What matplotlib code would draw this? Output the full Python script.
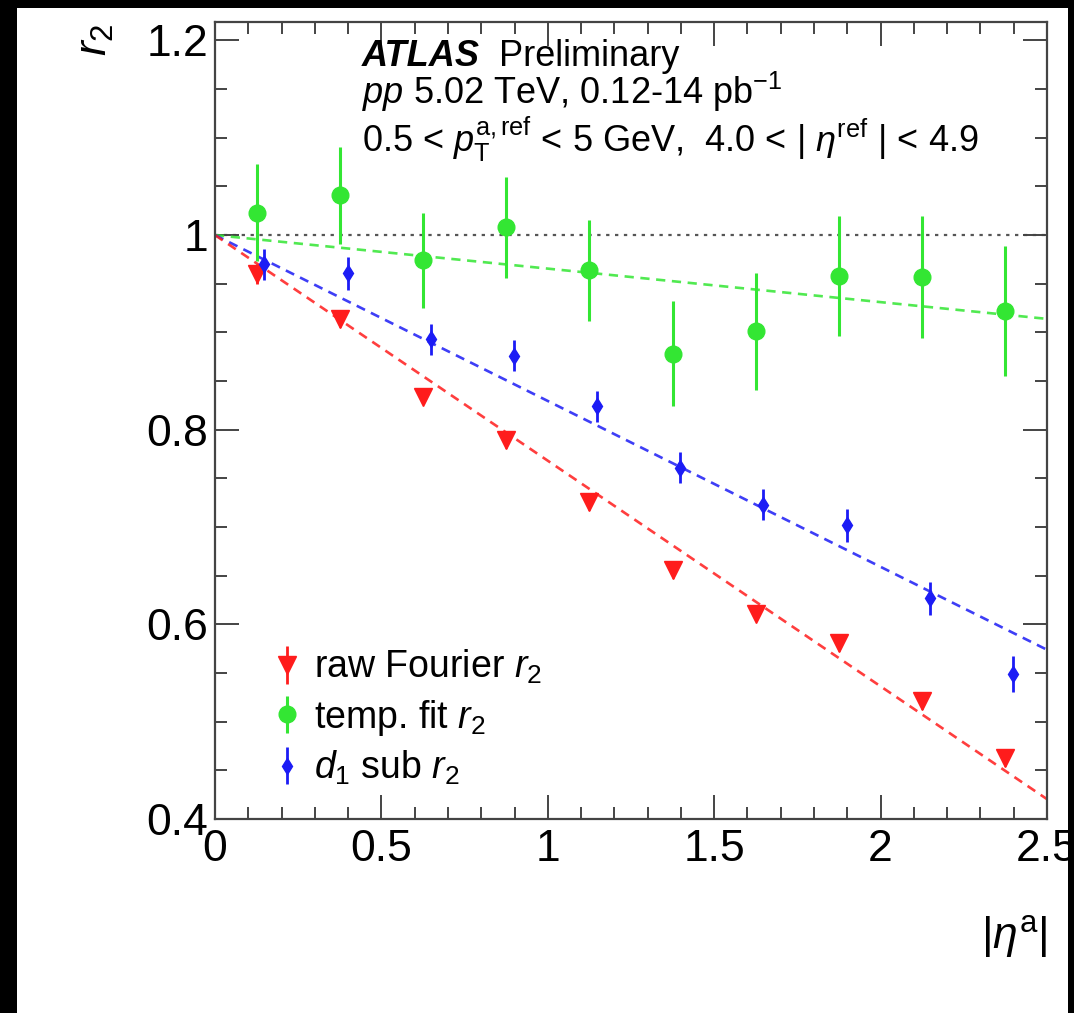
import numpy as np
import matplotlib
matplotlib.use("Agg")
import matplotlib.pyplot as plt
from matplotlib.ticker import MultipleLocator, FuncFormatter
from matplotlib.patches import Rectangle

plt.rcParams['font.family'] = ['Liberation Sans', 'DejaVu Sans']
plt.rcParams['mathtext.fontset'] = 'custom'
plt.rcParams['mathtext.rm'] = 'Liberation Sans'
plt.rcParams['mathtext.it'] = 'Liberation Sans:italic'
plt.rcParams['mathtext.bf'] = 'Liberation Sans:bold'

# |eta^a| bin centres (d1-sub points are shifted slightly to the right)
eta_a = [0.125, 0.375, 0.625, 0.875, 1.125, 1.375, 1.625, 1.875, 2.125, 2.375]
eta_a_d1 = [0.148, 0.399, 0.649, 0.899, 1.149, 1.397, 1.648, 1.898, 2.148, 2.399]

# raw Fourier r2
raw_r2 = [0.960, 0.914, 0.834, 0.789, 0.726, 0.656, 0.611, 0.581, 0.521, 0.463]
raw_err = [0.010, 0.008, 0.008, 0.008, 0.008, 0.008, 0.008, 0.008, 0.008, 0.009]

# template fit r2
temp_r2 = [1.023, 1.041, 0.974, 1.008, 0.964, 0.878, 0.901, 0.958, 0.957, 0.922]
temp_err = [0.050, 0.050, 0.049, 0.052, 0.052, 0.054, 0.060, 0.062, 0.063, 0.067]

# d1-subtracted r2
sub_r2 = [0.970, 0.961, 0.893, 0.876, 0.824, 0.761, 0.723, 0.702, 0.627, 0.549]
sub_err = [0.016, 0.017, 0.016, 0.016, 0.016, 0.016, 0.016, 0.017, 0.017, 0.018]

c_red = '#ff1c1c'
c_green = '#33e633'
c_blue = '#1c1cf5'

W, H = 1074, 1013
fig = plt.figure(figsize=(W / 100, H / 100), dpi=100)
fig.patch.set_facecolor('white')
ax = fig.add_axes([215 / W, 1 - 819 / H, (1047 - 215) / W, (819 - 22) / H])

ax.set_xlim(0, 2.5)
ax.set_ylim(0.4, 1.219)

# r2 = 1 line
ax.axhline(1.0, color='#555555', ls=(0, (1.5, 2.5)), lw=1.6, zorder=1)


def fit_through_one(x, y):
    # straight line constrained to r2 = 1 at |eta^a| = 0
    x = np.asarray(x)
    y = np.asarray(y)
    return np.sum(x * (1 - y)) / np.sum(x * x)


xf = np.array(ax.get_xlim())
for xs, ys, col in [(eta_a, temp_r2, c_green), (eta_a_d1, sub_r2, c_blue), (eta_a, raw_r2, c_red)]:
    k = fit_through_one(xs, ys)
    ax.plot(xf, 1 - k * xf, color=col, ls=(0, (3.5, 2.5)), lw=1.9, zorder=2, alpha=0.85)

h_raw = ax.errorbar(eta_a, raw_r2, yerr=raw_err, fmt='v', color=c_red, ms=12.5,
                    elinewidth=2, capsize=0, zorder=4, label='raw Fourier $r_{2}$')
h_temp = ax.errorbar(eta_a, temp_r2, yerr=temp_err, fmt='o', color=c_green, ms=12,
                     elinewidth=2.2, capsize=0, zorder=3, label='temp. fit $r_{2}$')
h_sub = ax.errorbar(eta_a_d1, sub_r2, yerr=sub_err, fmt='d', color=c_blue, ms=8.5,
                    elinewidth=2, capsize=0, zorder=5, label='$d_{1}$ sub $r_{2}$')

# ROOT-like frame and ticks
for s in ax.spines.values():
    s.set_color('#444444')
    s.set_linewidth(1.6)
ax.xaxis.set_major_locator(MultipleLocator(0.5))
ax.xaxis.set_minor_locator(MultipleLocator(0.1))
ax.yaxis.set_major_locator(MultipleLocator(0.2))
ax.yaxis.set_minor_locator(MultipleLocator(0.05))
fmt = FuncFormatter(lambda v, p: '%g' % round(v, 3))
ax.xaxis.set_major_formatter(fmt)
ax.yaxis.set_major_formatter(fmt)
ax.tick_params(which='both', direction='in', top=True, right=True, color='#444444',
               width=1.4, labelsize=32)
ax.tick_params(which='major', length=17)
ax.tick_params(which='minor', length=8.5)
ax.tick_params(axis='x', pad=7)
ax.tick_params(axis='y', pad=5)

# axis titles
fig.text(96 / W, 1 - 40 / H, '$r_{2}$', rotation=90, fontsize=32, ha='center', va='center')
fig.text(1047 / W, 1 - 936 / H, r'$|\eta^{\mathrm{a}}|$', fontsize=32, ha='right', va='center')

# header
fs = 26
ax.text((362 - 215) / 832, (819 - 66) / 797, 'ATLAS', transform=ax.transAxes,
        fontsize=fs, fontweight='bold', style='italic', va='baseline')
ax.text((499 - 215) / 832, (819 - 66) / 797, 'Preliminary', transform=ax.transAxes,
        fontsize=fs, va='baseline')
ax.text((362 - 215) / 832, (819 - 104) / 797, r'$pp$ 5.02 TeV, 0.12-14 pb$^{\mathrm{-1}}$',
        transform=ax.transAxes, fontsize=fs, va='baseline')
ax.text((362 - 215) / 832, (819 - 152) / 797,
        r'0.5 < $p_{\mathrm{T}}^{\mathrm{a,ref}}$ < 5 GeV,  4.0 < | $\eta^{\mathrm{ref}}$ | < 4.9',
        transform=ax.transAxes, fontsize=fs, va='baseline')

ax.legend(handles=[h_raw, h_temp, h_sub], loc='upper left',
          bbox_to_anchor=((276 - 215) / 832, (819 - 648) / 797), frameon=False,
          fontsize=27, handlelength=0.6, handletextpad=0.4, labelspacing=0.3,
          borderpad=0, borderaxespad=0)

# dark border strips
for x0, y0, w, h in [(0, 0, 17, H), (0, H - 8, W, 8), (1068, 0, W - 1068, H)]:
    fig.add_artist(Rectangle((x0 / W, y0 / H), w / W, h / H, transform=fig.transFigure,
                             facecolor='black', edgecolor='none', zorder=10))

fig.savefig('out.png', dpi=100)
